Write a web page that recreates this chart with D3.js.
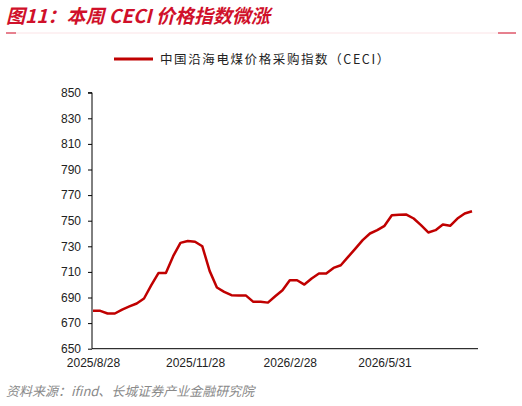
<!DOCTYPE html>
<html>
<head>
<meta charset="utf-8">
<script src="https://cdn.jsdelivr.net/npm/d3@7"></script>
<style>
body { margin: 0; background: #fff; }
svg { font-family: "Liberation Sans", Arial, sans-serif; }
</style>
</head>
<body>
<svg id="chart" width="522" height="406"></svg>
<script>
// weekly CECI index readings, starting 2025/8/28
const values = [679.6, 679.6, 677.5, 677.5, 680.6, 683, 685.3, 689.2, 699.6, 709.2,
	709.2, 722.3, 732.7, 734.2, 733.6, 730, 710.8, 697.8, 694.4, 691.8,
	691.5, 691.5, 686.6, 686.6, 686, 691, 695.7, 703.5, 703.5, 700.1,
	704.8, 708.7, 708.7, 713.1, 715.2, 721.7, 728.2, 734.8, 740, 742.6,
	746, 754.3, 754.6, 754.8, 751.7, 746.5, 740.8, 742.6, 747, 746,
	751.7, 755.6, 757.4];
const tickIndex = [0, 14, 27, 40];
const tickLabels = ["2025/8/28", "2025/11/28", "2026/2/28", "2026/5/31"];
const yTicks = d3.range(650, 851, 20);
const seriesName = "中国沿海电煤价格采购指数（CECI）";

const red = "#c00000";
const svg = d3.select("#chart");

const x = d3.scaleLinear().domain([0, values.length - 1]).range([93, 472]);
const y = d3.scaleLinear().domain([650, 850]).range([348.7, 92.7]);

// title
svg.append("text")
	.attr("x", 6).attr("y", 23)
	.attr("fill", "#d0102a")
	.attr("font-size", 19).attr("font-weight", "bold").attr("font-style", "italic")
	.attr("font-family", "'Noto Sans CJK SC', sans-serif")
	.text("图11：本周 CECI 价格指数微涨");
svg.append("line").attr("x1", 6).attr("x2", 516).attr("y1", 33).attr("y2", 33)
	.attr("stroke", "#fbe3e6").attr("stroke-width", 1);
svg.append("line").attr("x1", 6).attr("x2", 16).attr("y1", 33).attr("y2", 33)
	.attr("stroke", "#d0102a");
svg.append("line").attr("x1", 498).attr("x2", 516).attr("y1", 33).attr("y2", 33)
	.attr("stroke", "#d0102a");

// legend
svg.append("line").attr("x1", 114).attr("x2", 153).attr("y1", 59).attr("y2", 59)
	.attr("stroke", red).attr("stroke-width", 3);
svg.append("text").attr("x", 160).attr("y", 64)
	.attr("font-size", 12.5).attr("letter-spacing", 1.6).attr("fill", "#222")
	.attr("font-family", "'Noto Sans CJK SC', sans-serif")
	.text(seriesName);

// y axis
const yAxis = svg.append("g").attr("transform", "translate(92,0)")
	.call(d3.axisLeft(y).tickValues(yTicks).tickSize(4).tickPadding(7));
yAxis.selectAll("text").attr("font-size", 12).attr("fill", "#222");
yAxis.select(".domain").attr("d", "M-4,92.7H0V348.7");

// x axis
const xAxis = svg.append("g").attr("transform", "translate(0,348.7)")
	.call(d3.axisBottom(x).tickValues(tickIndex).tickSize(0).tickPadding(10)
		.tickFormat((d, i) => tickLabels[i]));
xAxis.selectAll("text").attr("font-size", 12).attr("fill", "#222");
xAxis.select(".domain").attr("d", "M92,0H478");

// series
svg.append("path")
	.datum(values)
	.attr("fill", "none")
	.attr("stroke", red)
	.attr("stroke-width", 2.5)
	.attr("stroke-linejoin", "round")
	.attr("d", d3.line().x((d, i) => x(i)).y(d => y(d)));

// source
svg.append("text")
	.attr("x", 6).attr("y", 396)
	.attr("fill", "#8a8a8a").attr("font-size", 13).attr("font-style", "italic")
	.attr("font-family", "'Noto Sans CJK SC', sans-serif")
	.text("资料来源：ifind、长城证券产业金融研究院");
</script>
</body>
</html>
